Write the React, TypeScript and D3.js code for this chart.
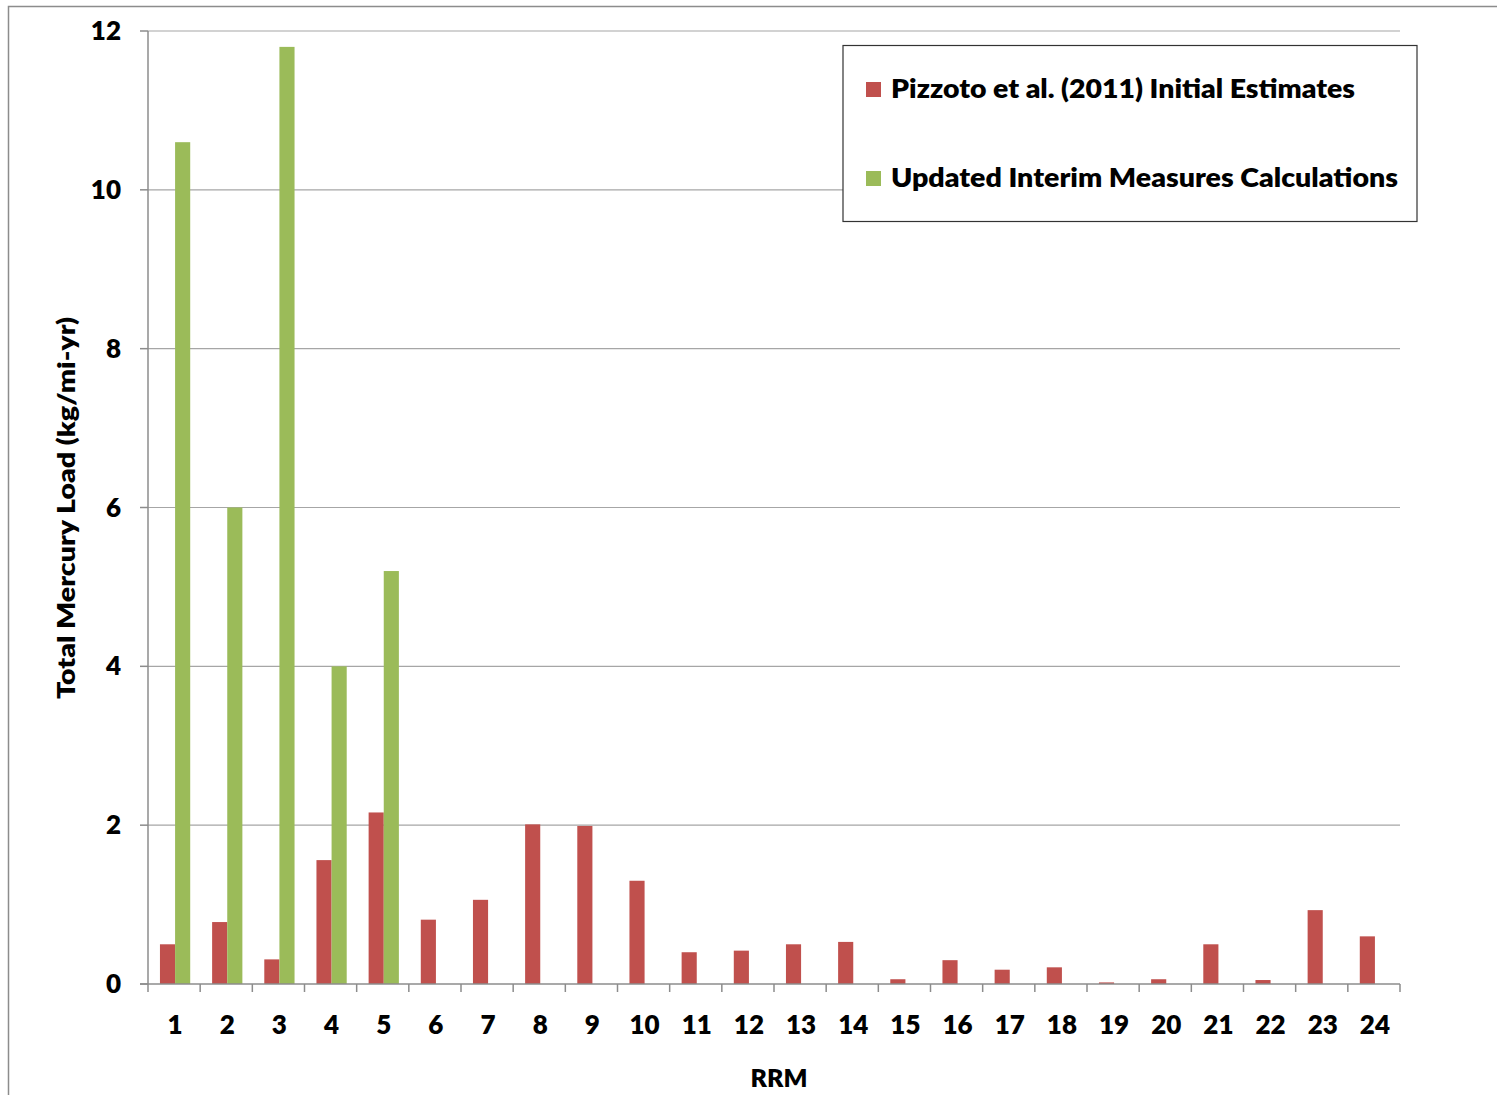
import React from "react";
import * as d3 from "d3";

const categories = ["1", "2", "3", "4", "5", "6", "7", "8", "9", "10", "11", "12", "13", "14", "15", "16", "17", "18", "19", "20", "21", "22", "23", "24"];
const pizzotoValues = [0.5, 0.78, 0.31, 1.56, 2.16, 0.81, 1.06, 2.01, 1.99, 1.3, 0.4, 0.42, 0.5, 0.53, 0.06, 0.3, 0.18, 0.21, 0.02, 0.06, 0.5, 0.05, 0.93, 0.6];
const updatedValues = [10.6, 6.0, 11.8, 4.0, 5.2, null, null, null, null, null, null, null, null, null, null, null, null, null, null, null, null, null, null, null];
const seriesNames = ["Pizzoto et al. (2011) Initial Estimates", "Updated Interim Measures Calculations"];
const seriesColors = ["#C0504D", "#9BBB59"];
const yTicks = [0, 2, 4, 6, 8, 10, 12];

const WIDTH = 1497;
const HEIGHT = 1095;
const FONT = "Lato, 'Open Sans', sans-serif";

export default function App() {
    const margin = { top: 31, right: 97, bottom: 111, left: 148 };

    const x = d3.scaleBand<string>()
        .domain(categories)
        .range([margin.left, WIDTH - margin.right]);

    const y = d3.scaleLinear([0, 12], [HEIGHT - margin.bottom, margin.top]);

    // inner scale for the two bars in each category
    const groupWidth = x.bandwidth() * 0.58;
    const inner = d3.scaleBand<number>()
        .domain([0, 1])
        .range([(x.bandwidth() - groupWidth) / 2 + 1, (x.bandwidth() + groupWidth) / 2 + 1]);

    const series = [pizzotoValues, updatedValues];

    const x0 = margin.left;
    const x1 = WIDTH - margin.right;
    const y0 = y(0);

    return <div style={{ position: "absolute", left: 0, top: 0 }}>
        <svg width={WIDTH} height={HEIGHT} style={{ display: "block" }} fontFamily={FONT}>
            <rect x={0} y={0} width={WIDTH} height={HEIGHT} fill="white" />
            {/* outer chart frame, cut off at right and bottom */}
            <rect x={8.5} y={6.5} width={WIDTH + 10} height={HEIGHT + 10} fill="none" stroke="#8c8c8c" strokeWidth={1.5} />

            <g name="grid">
                {yTicks.filter((t) => t > 0).map((t) => (
                    <line key={t} x1={x0} x2={x1} y1={y(t)} y2={y(t)} stroke="#a6a6a6" strokeWidth={1.2} />
                ))}
            </g>

            <g name="bars">
                {series.map((vals, si) => vals.map((v, i) => v == null ? null : (
                    <rect key={si + "-" + i}
                        x={x(categories[i])! + inner(si)!}
                        y={y(v)}
                        width={inner.bandwidth()}
                        height={y0 - y(v)}
                        fill={seriesColors[si]} />
                )))}
            </g>

            <g name="yAxis">
                <line x1={x0} x2={x0} y1={y(12)} y2={y0} stroke="#8c8c8c" strokeWidth={1.5} />
                {yTicks.map((t) => (
                    <g key={t}>
                        <line x1={x0 - 8} x2={x0} y1={y(t)} y2={y(t)} stroke="#8c8c8c" strokeWidth={1.5} />
                        <text x={121} y={y(t)} dy="0.35em" textAnchor="end" fontSize={26} fontWeight={800} fill="#000">{t}</text>
                    </g>
                ))}
            </g>

            <g name="xAxis">
                <line x1={x0 - 8} x2={x1} y1={y0} y2={y0} stroke="#8c8c8c" strokeWidth={1.5} />
                {categories.map((c, i) => (
                    <line key={"t" + c} x1={x0 + i * x.step()} x2={x0 + i * x.step()} y1={y0} y2={y0 + 8} stroke="#8c8c8c" strokeWidth={1.5} />
                ))}
                <line x1={x1} x2={x1} y1={y0} y2={y0 + 8} stroke="#8c8c8c" strokeWidth={1.5} />
                {categories.map((c) => (
                    <text key={c} x={x(c)! + x.bandwidth() / 2 + 1} y={1034} textAnchor="middle" fontSize={26} fontWeight={800} fill="#000">{c}</text>
                ))}
            </g>

            <text x={779} y={1087} textAnchor="middle" fontSize={25} fontWeight={800}>RRM</text>
            <text transform="translate(75,508) rotate(-90)" textAnchor="middle" fontSize={25} fontWeight={800}
                textLength={382} lengthAdjust="spacingAndGlyphs">Total Mercury Load (kg/mi-yr)</text>

            <g name="legend">
                <rect x={843} y={45.5} width={574} height={176} fill="white" stroke="#333" strokeWidth={1.2} />
                {seriesNames.map((name, i) => (
                    <g key={name} transform={`translate(866, ${89 + i * 89})`}>
                        <rect x={0} y={-7} width={15} height={15} fill={seriesColors[i]} />
                        <text x={25} y={0} dy="0.35em" fontSize={26} fontWeight={800}
                            textLength={i === 0 ? 464 : 507} lengthAdjust="spacingAndGlyphs">{name}</text>
                    </g>
                ))}
            </g>
        </svg>
    </div>;
}
